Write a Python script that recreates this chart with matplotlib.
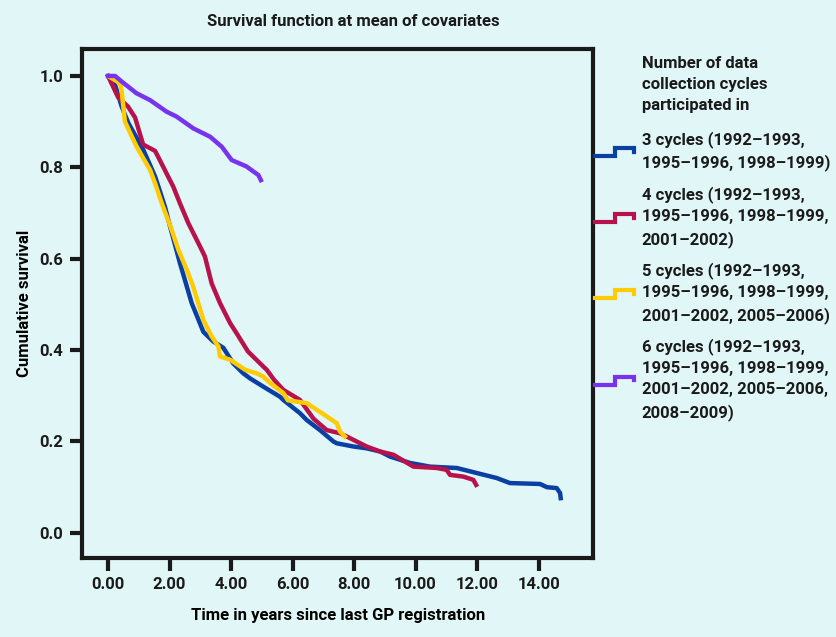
import matplotlib
matplotlib.use("Agg")
import matplotlib.pyplot as plt
from matplotlib.legend_handler import HandlerBase
from matplotlib.lines import Line2D

# survival estimates
t_3 = [0, 0.23, 0.44, 0.66, 1.15, 1.53, 1.85, 1.96, 2.34, 2.72, 3.1, 3.42, 3.75,
       4.07, 4.4, 4.62, 5.05, 5.59, 5.7, 6.24, 6.46, 6.89, 7.33, 7.44, 7.98, 8.41,
       8.85, 9.17, 9.82, 10.47, 11.34, 11.99, 12.64, 13.07, 14.05, 14.27, 14.59,
       14.7, 14.72]
s_3 = [1.0, 0.98, 0.934, 0.897, 0.838, 0.78, 0.714, 0.685, 0.59, 0.503, 0.44,
       0.419, 0.405, 0.371, 0.349, 0.338, 0.32, 0.298, 0.291, 0.262, 0.247, 0.225,
       0.2, 0.196, 0.189, 0.185, 0.178, 0.167, 0.153, 0.145, 0.142, 0.131, 0.12,
       0.109, 0.107, 0.1, 0.098, 0.087, 0.076]

t_4 = [0, 0.33, 0.65, 0.88, 1.14, 1.53, 1.63, 1.9, 2.12, 2.34, 2.61, 2.99, 3.15,
       3.37, 3.64, 3.97, 4.18, 4.55, 5.05, 5.16, 5.4, 5.7, 6.24, 6.68, 7.11, 7.54,
       7.76, 8.41, 8.85, 9.28, 9.93, 10.69, 11.01, 11.12, 11.56, 11.88, 11.97]
s_4 = [1.0, 0.953, 0.933, 0.909, 0.85, 0.836, 0.823, 0.787, 0.758, 0.721, 0.678,
       0.627, 0.605, 0.546, 0.503, 0.459, 0.437, 0.397, 0.364, 0.357, 0.335, 0.313,
       0.291, 0.25, 0.225, 0.218, 0.211, 0.189, 0.178, 0.171, 0.145, 0.142, 0.138,
       0.127, 0.123, 0.116, 0.105]

t_5 = [0, 0.39, 0.44, 0.55, 0.93, 1.37, 1.53, 1.75, 2.07, 2.29, 2.56, 2.77, 3.1,
       3.37, 3.59, 3.64, 3.97, 4.46, 4.84, 5.05, 5.27, 5.7, 5.85, 6.46, 7.11, 7.44,
       7.54, 7.7]
s_5 = [1.0, 0.984, 0.969, 0.9, 0.845, 0.794, 0.765, 0.721, 0.663, 0.619, 0.576,
       0.539, 0.466, 0.43, 0.408, 0.386, 0.379, 0.357, 0.349, 0.342, 0.328, 0.306,
       0.29, 0.284, 0.255, 0.24, 0.222, 0.211]

t_6 = [0, 0.23, 0.44, 0.93, 1.37, 1.9, 2.23, 2.78, 3.32, 3.7, 4.02, 4.5, 4.89, 4.97]
s_6 = [1.0, 1.0, 0.988, 0.962, 0.947, 0.922, 0.911, 0.885, 0.867, 0.845, 0.816,
       0.802, 0.783, 0.772]

labels = [
    "3 cycles (1992\u20131993,\n1995\u20131996, 1998\u20131999)",
    "4 cycles (1992\u20131993,\n1995\u20131996, 1998\u20131999,\n2001\u20132002)",
    "5 cycles (1992\u20131993,\n1995\u20131996, 1998\u20131999,\n2001\u20132002, 2005\u20132006)",
    "6 cycles (1992\u20131993,\n1995\u20131996, 1998\u20131999,\n2001\u20132002, 2005\u20132006,\n2008\u20132009)",
]
colors = ["#0a3fa3", "#b8124c", "#ffcb05", "#7733ee"]

x_ticks = [0, 2, 4, 6, 8, 10, 12, 14]
y_ticks = [0.0, 0.2, 0.4, 0.6, 0.8, 1.0]

bg = "#e1f6f6"
ink = "#1a1a1a"

plt.rcParams["font.family"] = ["Roboto", "DejaVu Sans"]
plt.rcParams["font.weight"] = "bold"
plt.rcParams["axes.labelweight"] = "bold"
plt.rcParams["font.size"] = 12
plt.rcParams["text.color"] = ink


class StepHandler(HandlerBase):
    # little survival-step glyph used as legend key
    def create_artists(self, legend, orig_handle, xdescent, ydescent,
                       width, height, fontsize, trans):
        xs = [0, 0.5, 0.5, 0.97, 0.97]
        ys = [0.1, 0.1, 0.75, 0.75, 0.45]
        xs = [x * width - xdescent for x in xs]
        ys = [y * height - ydescent for y in ys]
        ln = Line2D(xs, ys, color=orig_handle.get_color(), lw=3,
                    solid_joinstyle="miter", transform=trans)
        return [ln]


fig = plt.figure(figsize=(8.37, 6.37), dpi=100, facecolor=bg)
ax = fig.add_axes([82.5 / 837, 1 - 558 / 637, (593 - 82.5) / 837, (558 - 49) / 637])
ax.set_facecolor(bg)

lines = []
for t, s, c in zip([t_3, t_4, t_5, t_6], [s_3, s_4, s_5, s_6], colors):
    ln, = ax.plot(t, s, color=c, lw=3.2, solid_joinstyle="round")
    lines.append(ln)

ax.set_xlim(-0.83, 15.77)
ax.set_ylim(-0.055, 1.059)
ax.set_xticks(x_ticks)
ax.set_xticklabels(["%.2f" % v for v in x_ticks])
ax.set_yticks(y_ticks)
ax.set_yticklabels(["%.1f" % v for v in y_ticks])
ax.tick_params(direction="out", length=9, width=3, colors=ink, pad=5, labelsize=12)
for sp in ax.spines.values():
    sp.set_linewidth(3)
    sp.set_color(ink)

ax.set_xlabel("Time in years since last GP registration", fontsize=12,
              fontweight="bold", labelpad=11)
ax.set_ylabel("Cumulative survival", fontsize=12, fontweight="bold", labelpad=5)

fig.text(353 / 837, 1 - 22 / 637, "Survival function at mean of covariates",
         ha="center", va="center", fontsize=12, fontweight="bold")

fig.text(642 / 837, 1 - 56 / 637,
         "Number of data\ncollection cycles\nparticipated in",
         ha="left", va="top", fontsize=12, fontweight="bold", linespacing=1.5)

leg = ax.legend(lines, labels, handler_map={Line2D: StepHandler()},
                loc="upper left", bbox_to_anchor=(595 / 837, 1 - 131 / 637),
                bbox_transform=fig.transFigure, frameon=False, borderpad=0,
                borderaxespad=0, handlelength=2.4, handletextpad=0.4,
                labelspacing=0.88, fontsize=12)
for txt in leg.get_texts():
    txt.set_linespacing(1.5)

fig.savefig("out.png", dpi=100, facecolor=bg)
